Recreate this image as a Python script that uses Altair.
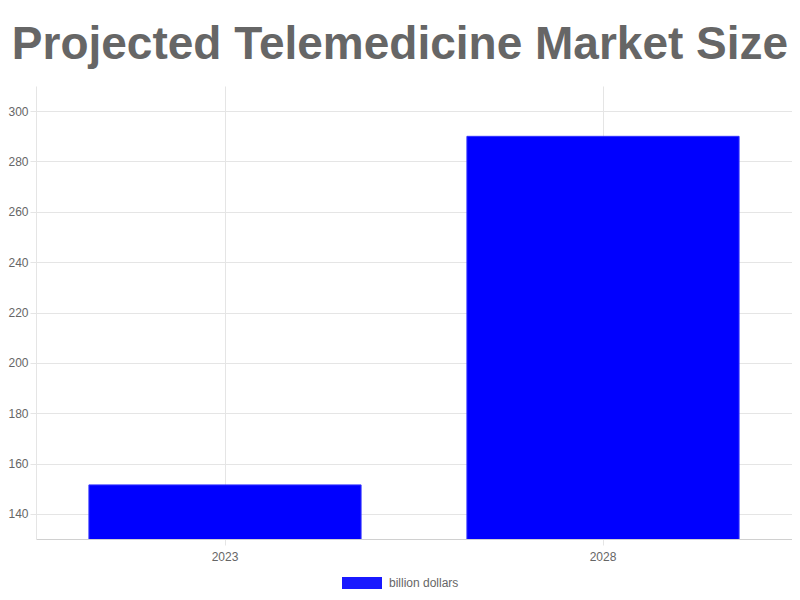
import altair as alt
import pandas as pd

years = ["2023", "2028"]
values = [151.5, 290]
series = ["billion dollars", "billion dollars"]
y_ticks = [140, 160, 180, 200, 220, 240, 260, 280, 300]

df = pd.DataFrame({"year": years, "value": values, "series": series})

grid = "#e5e5e5"
label_color = "#666666"
font = "Liberation Sans"

chart = (
    alt.Chart(df)
    .mark_bar(stroke="#3333ff", strokeWidth=1, fill="#0000ff", clip=True)
    .encode(
        x=alt.X(
            "year:N",
            sort=years,
            scale=alt.Scale(paddingInner=0.28, paddingOuter=0.14),
            axis=alt.Axis(
                title=None,
                labelAngle=0,
                labelColor=label_color,
                labelFont=font,
                labelFontSize=12,
                labelPadding=6,
                tickColor=grid,
                tickSize=6,
                grid=True,
                gridColor=grid,
                bandPosition=0.5,
                domainColor="#d0d0d0",
            ),
        ),
        y=alt.Y(
            "value:Q",
            scale=alt.Scale(domain=[130, 310], nice=False, zero=False),
            axis=alt.Axis(
                title=None,
                values=y_ticks,
                labelColor=label_color,
                labelFont=font,
                labelFontSize=12,
                labelPadding=2,
                tickColor=grid,
                tickSize=6,
                gridColor=grid,
                domainColor=grid,
            ),
        ),
        color=alt.Color(
            "series:N",
            scale=alt.Scale(range=["#0000ff"]),
            legend=alt.Legend(
                title=None,
                orient="none",
                legendX=306,
                legendY=477,
                padding=0,
                symbolType="M-1,-0.3H1V0.3H-1Z",
                symbolSize=1600,
                symbolOpacity=0.9,
                symbolStrokeWidth=0,
                labelColor=label_color,
                labelFont=font,
                labelFontSize=12,
                labelOffset=7,
            ),
        ),
    )
    .properties(
        width=756,
        height=453,
        title=alt.TitleParams(
            "Projected Telemedicine Market Size",
            font="Liberation Sans Narrow, Arial Narrow, Liberation Sans",
            fontSize=46,
            fontWeight="bold",
            color=label_color,
            anchor="middle",
            dx=-14,
            offset=17,
        ),
        autosize=alt.AutoSizeParams(type="none"),
        padding={"left": 28, "top": 78, "right": 0, "bottom": 53},
    )
    .configure_view(stroke=None)
)

chart.save("out.html", embed_options={"renderer": "svg", "actions": False})
